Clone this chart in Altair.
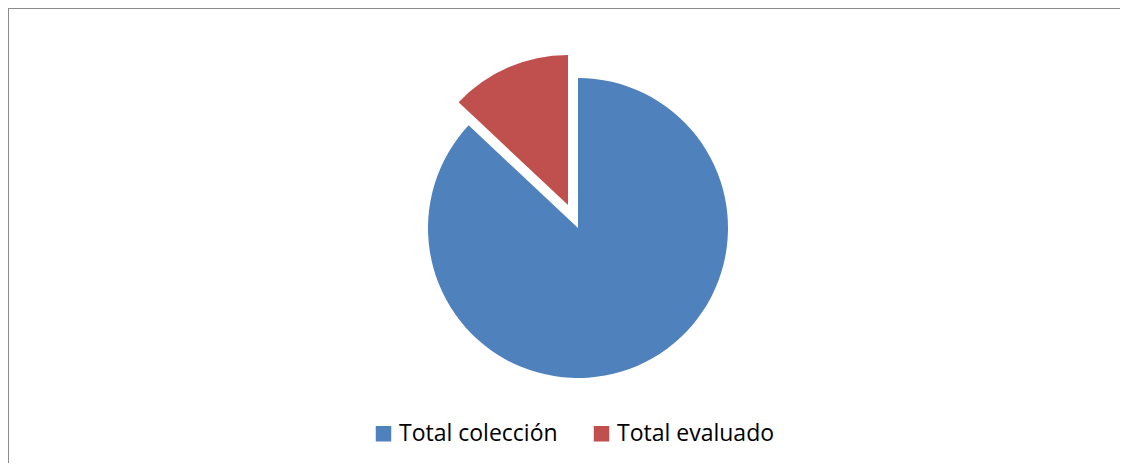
import altair as alt
import pandas as pd

categories = ["Total colección", "Total evaluado"]
values = [87, 13]
colors = ["#4F81BD", "#C0504D"]

df = pd.DataFrame({"cat": categories, "val": values, "ord": [0, 1]})

W, H = 1112, 455
CX, CY, R = 570, 220, 150
EX_DX, EX_DY = -10, -23

color = alt.Color("cat:N", scale=alt.Scale(domain=categories, range=colors),
                  legend=alt.Legend(title=None, orient="none", direction="horizontal",
                                    legendX=364, legendY=414, symbolType="square",
                                    symbolSize=240, symbolStrokeWidth=0,
                                    labelFontSize=23, labelFont="Open Sans", labelColor="#000000",
                                    labelOffset=4, columnPadding=32, padding=0,
                                    labelLimit=400))

base = alt.Chart(df)

blue = base.mark_arc(radius=R).encode(
    theta=alt.Theta("val:Q", stack=True),
    order=alt.Order("ord:Q"),
    color=color,
    opacity=alt.condition("datum.cat == 'Total colección'", alt.value(1), alt.value(0)),
    x=alt.value(CX), y=alt.value(CY),
)

red = base.mark_arc(radius=R).encode(
    theta=alt.Theta("val:Q", stack=True),
    order=alt.Order("ord:Q"),
    color=color,
    opacity=alt.condition("datum.cat == 'Total evaluado'", alt.value(1), alt.value(0)),
    x=alt.value(CX + EX_DX), y=alt.value(CY + EX_DY),
)

left_border = base.mark_rule(color="#8c8c8c", strokeWidth=2).encode(
    x=alt.value(0), y=alt.value(-2), y2=alt.value(H))
top_border = base.mark_rule(color="#8c8c8c", strokeWidth=2).encode(
    x=alt.value(0), x2=alt.value(W), y=alt.value(0))

chart = alt.layer(blue, red, left_border, top_border).properties(
    width=W, height=H, autosize=alt.AutoSizeParams(type="none"), padding=0
).configure_view(strokeWidth=0, stroke="transparent").configure(background="white")

chart.save("out.html", embed_options={"renderer": "svg", "actions": False})
